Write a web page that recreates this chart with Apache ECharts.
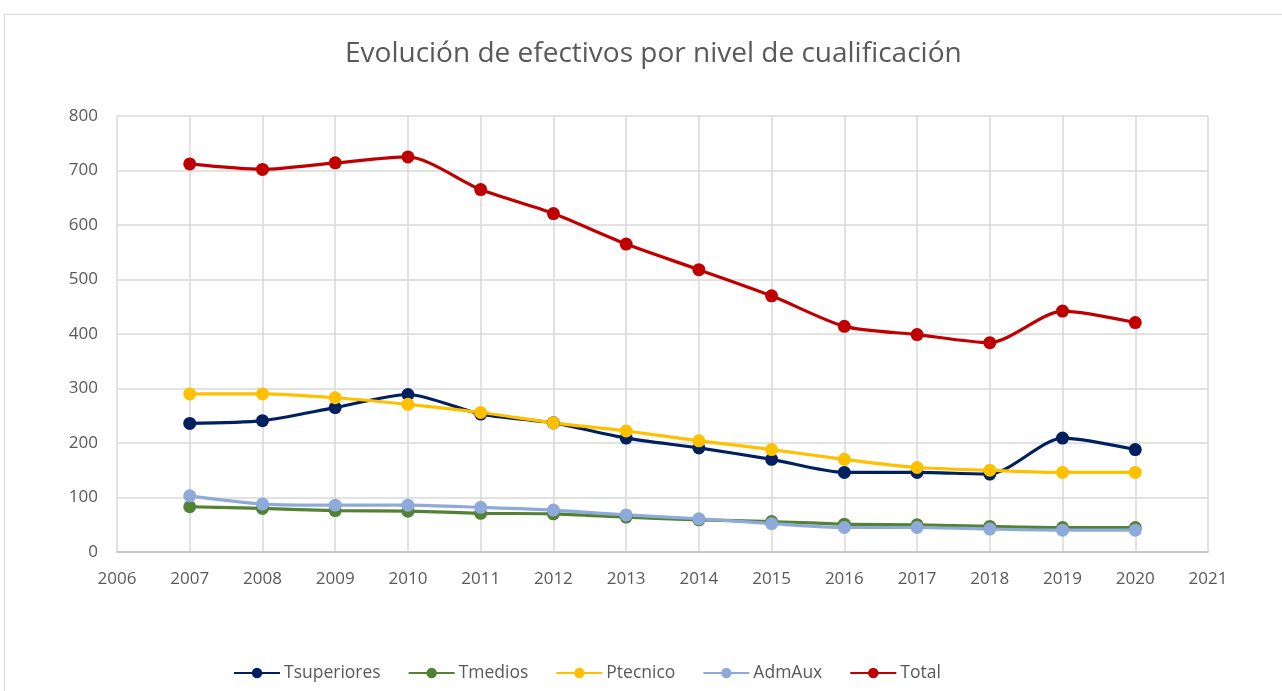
<html>
<head>
    <meta charset="utf-8" />
    <title>Evolución de efectivos</title>
    <script src="https://cdnjs.cloudflare.com/ajax/libs/echarts/6.0.0/echarts.min.js"></script>
    <style>
        body { margin: 0; background: #fff; }
        #frame { position: absolute; left: 4px; top: 14px; width: 1290px; height: 690px; border: 1px solid #d9d9d9; }
        #chart { position: absolute; left: 0; top: 0; width: 1282px; height: 691px; }
    </style>
    <script type="text/javascript">
        var years = [2007, 2008, 2009, 2010, 2011, 2012, 2013, 2014, 2015, 2016, 2017, 2018, 2019, 2020];
        var tsuperiores = [236, 241, 265, 289, 253, 237, 209, 191, 170, 146, 146, 143, 209, 188];
        var tmedios = [83, 80, 76, 75, 71, 70, 64, 59, 56, 51, 50, 47, 45, 45];
        var ptecnico = [290, 290, 283, 271, 256, 237, 222, 204, 188, 170, 155, 150, 146, 146];
        var admAux = [103, 88, 86, 86, 82, 77, 68, 61, 52, 45, 45, 42, 40, 40];
        var total = [712, 702, 714, 725, 665, 621, 565, 518, 470, 414, 399, 384, 442, 421];
        var seriesNames = ['Tsuperiores', 'Tmedios', 'Ptecnico', 'AdmAux', 'Total'];
        var seriesColors = ['#002060', '#548235', '#ffc000', '#8eaadb', '#c00000'];

        function pairs(values) {
            return values.map(function (v, i) { return [years[i], v]; });
        }

        function renderChart() {
            var chart = echarts.init(document.getElementById('chart'));
            var allValues = [tsuperiores, tmedios, ptecnico, admAux, total];
            var font = 'Open Sans';
            var option = {
                animation: false,
                textStyle: { fontFamily: font },
                title: {
                    text: 'Evolución de efectivos por nivel de cualificación',
                    left: 340,
                    top: 35,
                    textStyle: { color: '#595959', fontSize: 28, fontWeight: 'normal', fontFamily: font }
                },
                legend: {
                    top: 659,
                    left: 228,
                    itemWidth: 46,
                    itemHeight: 13,
                    itemGap: 27,
                    textStyle: { color: '#595959', fontSize: 17.5, fontFamily: font, padding: [0, 0, 0, -1] },
                    data: seriesNames
                },
                grid: { left: 117, right: 74, top: 116, bottom: 139 },
                xAxis: {
                    type: 'value',
                    min: 2006,
                    max: 2021,
                    interval: 1,
                    axisLine: { show: true, lineStyle: { color: '#bfbfbf', width: 1.5 } },
                    axisTick: { show: false },
                    axisLabel: {
                        color: '#595959', fontSize: 17, margin: 19, fontFamily: font,
                        formatter: function (v) { return String(v); }
                    },
                    splitLine: { show: true, lineStyle: { color: '#d9d9d9', width: 1.5 } }
                },
                yAxis: {
                    type: 'value',
                    min: 0,
                    max: 800,
                    interval: 100,
                    axisLine: { show: false },
                    axisTick: { show: false },
                    axisLabel: { color: '#595959', fontSize: 17, margin: 19, fontFamily: font },
                    splitLine: { show: true, lineStyle: { color: '#d9d9d9', width: 1.5 } }
                },
                series: seriesNames.map(function (name, i) {
                    return {
                        name: name,
                        type: 'line',
                        smooth: 0.25,
                        data: pairs(allValues[i]),
                        symbol: 'circle',
                        symbolSize: 13,
                        color: seriesColors[i],
                        lineStyle: { width: 3.2, color: seriesColors[i] },
                        itemStyle: { color: seriesColors[i] }
                    };
                })
            };
            chart.setOption(option);
        }
    </script>
</head>
<body>
    <div id="frame"></div>
    <div id="chart"></div>
    <script type="text/javascript">
        renderChart();
    </script>
</body>
</html>
